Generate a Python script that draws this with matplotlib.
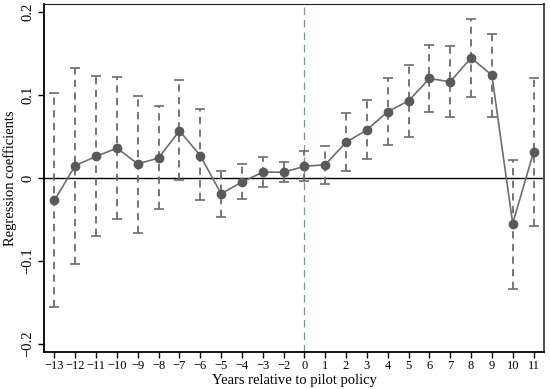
import matplotlib
matplotlib.use("Agg")
import matplotlib.pyplot as plt

plt.rcParams["font.family"] = ["Liberation Serif", "DejaVu Serif"]

# event-time labels (year -1 is the omitted reference year)
years = ["−13", "−12", "−11", "−10", "−9", "−8", "−7", "−6", "−5", "−4", "−3", "−2",
         "0", "1", "2", "3", "4", "5", "6", "7", "8", "9", "10", "11"]
coef = [-0.027, 0.015, 0.026, 0.036, 0.017, 0.024, 0.057, 0.027, -0.019, -0.005, 0.007, 0.007,
        0.014, 0.016, 0.043, 0.058, 0.080, 0.093, 0.120, 0.116, 0.145, 0.124, -0.055, 0.031]
upper = [0.102, 0.133, 0.123, 0.122, 0.099, 0.087, 0.118, 0.083, 0.008, 0.017, 0.025, 0.019,
         0.032, 0.039, 0.078, 0.094, 0.120, 0.136, 0.160, 0.159, 0.192, 0.174, 0.022, 0.121]
lower = [-0.156, -0.104, -0.070, -0.049, -0.066, -0.038, -0.002, -0.027, -0.047, -0.025, -0.011, -0.005,
         -0.004, -0.007, 0.008, 0.023, 0.040, 0.050, 0.080, 0.074, 0.098, 0.074, -0.134, -0.058]

x = list(range(len(years)))
yerr = [[c - l for c, l in zip(coef, lower)], [u - c for u, c in zip(upper, coef)]]

fig = plt.figure(figsize=(5.5, 3.89), dpi=100)
ax = fig.add_axes([0.08, 0.095, 0.909, 0.895])

ax.axhline(0, color="black", lw=1.0, zorder=1)
ax.axvline(years.index("0"), color="#6a9e90", lw=0.9, ls=(0, (6, 4)), zorder=1)

eb = ax.errorbar(x, coef, yerr=yerr, fmt="none", ecolor="#6b6b6b", elinewidth=1.3,
                 capsize=3.5, capthick=1.2, zorder=2)
eb[2][0].set_linestyle((0, (4, 3)))
ax.plot(x, coef, color="#6e6e6e", lw=1.2, marker="o", ms=6,
        mfc="#5a5a5a", mec="#5a5a5a", zorder=3)

ax.set_xlim(-0.5, 23.5)
ax.set_ylim(-0.21, 0.21)
ax.set_xticks(x)
ax.set_xticklabels(years)
ax.set_yticks([-0.2, -0.1, 0, 0.1, 0.2])
ax.set_yticklabels(["−0.2", "−0.1", "0", "0.1", "0.2"], rotation=90, va="center")
ax.tick_params(length=4, width=1, color="black")
ax.tick_params(axis="x", labelsize=9, pad=2)
ax.tick_params(axis="y", labelsize=10.5, pad=3)
ax.set_xlabel("Years relative to pilot policy", fontsize=10.5, labelpad=1)
ax.set_ylabel("Regression coefficients", fontsize=10.5, labelpad=3)

for s in ["left", "bottom"]:
    ax.spines[s].set_linewidth(1.3)
    ax.spines[s].set_color("black")
ax.spines["top"].set_color("#222222")
ax.spines["right"].set_color("#555555")
ax.spines["right"].set_linewidth(1.5)

fig.savefig("out.png", dpi=100)
